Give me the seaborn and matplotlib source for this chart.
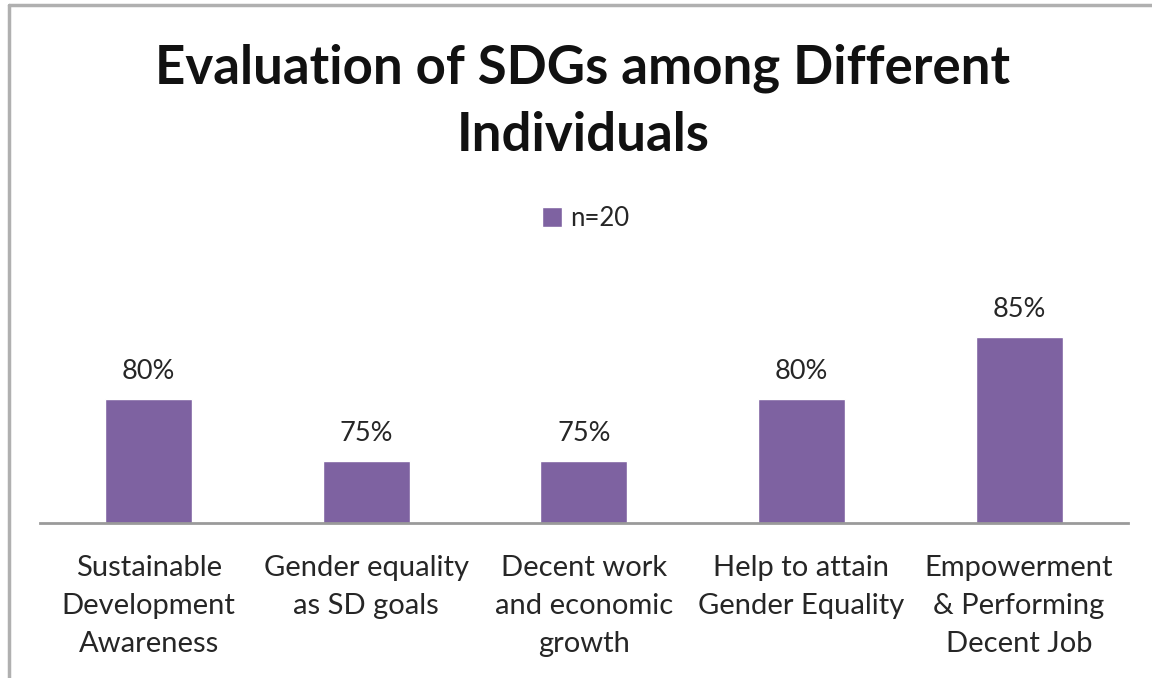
import matplotlib
matplotlib.use("Agg")
import matplotlib.pyplot as plt
import seaborn as sns
import pandas as pd
from matplotlib.patches import Patch

categories = ["Sustainable\nDevelopment\nAwareness", "Gender equality\nas SD goals",
              "Decent work\nand economic\ngrowth", "Help to attain\nGender Equality",
              "Empowerment\n& Performing\nDecent Job"]
values = [0.80, 0.75, 0.75, 0.80, 0.85]
series_name = "n=20"
title = "Evaluation of SDGs among Different\nIndividuals"

sns.set_theme(style="white")
plt.rcParams['font.family'] = ['Lato', 'DejaVu Sans']

df = pd.DataFrame({"cat": categories, "val": values, "s": series_name})

fig = plt.figure(figsize=(11.52, 6.78), dpi=100)
ax = fig.add_axes([0.0347, 0.2286, 0.9443, 0.366])
color = "#7E62A1"
sns.barplot(data=df, x="cat", y="val", color=color, width=0.4, ax=ax, saturation=1)
ax.set_ylim(0.70, 0.90)
ax.set_xlim(-0.5, 4.5)
ax.set_yticks([])
ax.set_xlabel("")
ax.set_ylabel("")
for s in ["top", "right", "left"]:
    ax.spines[s].set_visible(False)
ax.spines["bottom"].set_color("#9a9a9a")
ax.spines["bottom"].set_linewidth(2)
ax.set_xticks(range(len(categories)))
ax.set_xticklabels(categories, linespacing=1.58, fontsize=21, color="#262626")
ax.tick_params(axis="x", length=0, pad=23)

for i, v in enumerate(values):
    ax.text(i, v + 0.012, f"{v*100:.0f}%", ha="center", va="bottom",
            fontsize=19.5, color="#262626")

fig.text(0.506, 0.85, title, ha="center", va="center", fontsize=38,
         fontweight="bold", color="#111111", linespacing=1.45)

handles = [Patch(facecolor=color, label=series_name)]
fig.legend(handles=handles, loc="center", bbox_to_anchor=(0.508, 0.678),
           frameon=False, fontsize=18.5, handlelength=0.8, handleheight=0.8,
           handletextpad=0.3, labelcolor="#262626")

# outer border (left and top visible)
fig.add_artist(plt.Line2D([0.0075, 0.0075], [0, 0.993], color="#b0b0b0", lw=2.5,
                          transform=fig.transFigure))
fig.add_artist(plt.Line2D([0.0075, 1.0], [0.993, 0.993], color="#b0b0b0", lw=2.5,
                          transform=fig.transFigure))

fig.savefig("out.png", dpi=100, facecolor="white")
